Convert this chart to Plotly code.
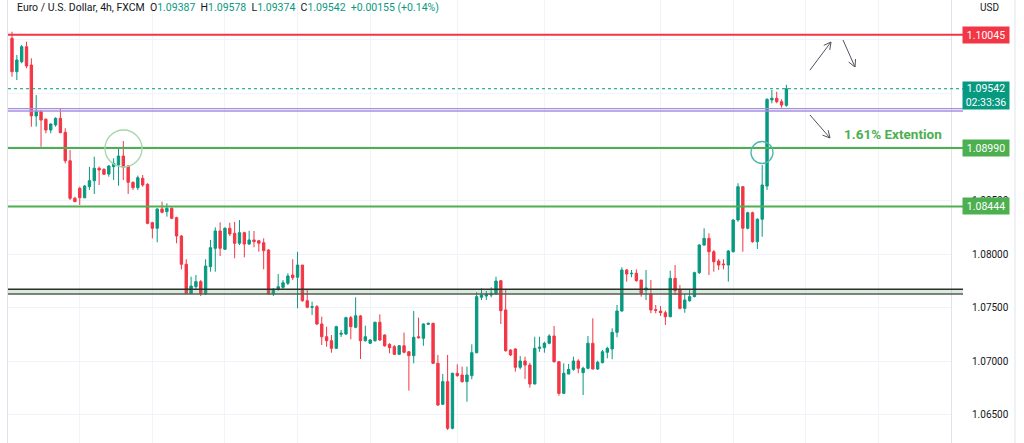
import math
import plotly.graph_objects as go

# ---------------- data (EUR/USD 4h) ----------------
OPEN = [1.10012, 1.09701, 1.09794, 1.09934, 1.09763, 1.09288, 1.09328, 1.09257, 1.09157, 1.09204,
        1.09266, 1.09135, 1.08870, 1.08520, 1.08613, 1.08525, 1.08628, 1.08684, 1.08800, 1.08790,
        1.08746, 1.08815, 1.08830, 1.08914, 1.08821, 1.08669, 1.08619, 1.08706, 1.08650, 1.08292,
        1.08240, 1.08420, 1.08395, 1.08426, 1.08339, 1.08168, 1.07904, 1.07633, 1.07695, 1.07742,
        1.07627, 1.07882, 1.08053, 1.08215, 1.08044, 1.08240, 1.08193, 1.08100, 1.08199, 1.08093,
        1.08131, 1.08124, 1.08105, 1.08037, 1.07633, 1.07671, 1.07689, 1.07727, 1.07804, 1.07783,
        1.07897, 1.07564, 1.07503, 1.07508, 1.07347, 1.07228, 1.07191, 1.07120, 1.07251, 1.07254,
        1.07406, 1.07316, 1.07422, 1.07191, 1.07167, 1.07191, 1.07363, 1.07244, 1.07157, 1.07135,
        1.07064, 1.07144, 1.07088, 1.07051, 1.07228, 1.07213, 1.07344, 1.07353, 1.06980, 1.06598,
        1.06809, 1.06374, 1.06887, 1.06871, 1.06809, 1.06865, 1.07079, 1.07596, 1.07608, 1.07617,
        1.07627, 1.07751, 1.07478, 1.07104, 1.07114, 1.06943, 1.07002, 1.06964, 1.06787, 1.07120,
        1.07126, 1.07167, 1.07235, 1.06995, 1.06700, 1.06880, 1.06924, 1.07002, 1.06893, 1.06934,
        1.07167, 1.06927, 1.06986, 1.07083, 1.07114, 1.07269, 1.07468, 1.07851, 1.07816, 1.07820,
        1.07757, 1.07664, 1.07627, 1.07480, 1.07468, 1.07452, 1.07415, 1.07773, 1.07664, 1.07493,
        1.07564, 1.07602, 1.07826, 1.08084, 1.08146, 1.08021, 1.07935, 1.07907, 1.07897, 1.08021,
        1.08317, 1.08628, 1.08240, 1.08385, 1.08115, 1.08324, 1.08634, 1.09437, 1.09453, 1.09421,
        1.09387]
HIGH = [1.10074, 1.09857, 1.09950, 1.09981, 1.09826, 1.09483, 1.09344, 1.09266, 1.09219, 1.09275,
        1.09359, 1.09173, 1.08970, 1.08535, 1.08628, 1.08644, 1.08812, 1.08908, 1.08815, 1.08800,
        1.08830, 1.08893, 1.08980, 1.09054, 1.08830, 1.08675, 1.08731, 1.08737, 1.08660, 1.08301,
        1.08426, 1.08488, 1.08473, 1.08436, 1.08348, 1.08177, 1.07951, 1.07788, 1.07804, 1.07757,
        1.07951, 1.08131, 1.08249, 1.08296, 1.08249, 1.08292, 1.08301, 1.08317, 1.08208, 1.08217,
        1.08215, 1.08131, 1.08146, 1.08044, 1.07680, 1.07813, 1.07757, 1.07820, 1.07951, 1.08021,
        1.07897, 1.07664, 1.07555, 1.07524, 1.07415, 1.07322, 1.07244, 1.07331, 1.07291, 1.07415,
        1.07422, 1.07596, 1.07431, 1.07331, 1.07207, 1.07368, 1.07437, 1.07251, 1.07167, 1.07151,
        1.07151, 1.07266, 1.07095, 1.07468, 1.07406, 1.07353, 1.07359, 1.07359, 1.07058, 1.06880,
        1.07058, 1.06893, 1.06971, 1.06949, 1.06949, 1.07157, 1.07643, 1.07680, 1.07655, 1.07689,
        1.07788, 1.07757, 1.07664, 1.07111, 1.07120, 1.07048, 1.07042, 1.06986, 1.07228, 1.07228,
        1.07182, 1.07251, 1.07328, 1.07002, 1.06980, 1.06974, 1.07042, 1.07018, 1.06949, 1.07235,
        1.07400, 1.07004, 1.07104, 1.07135, 1.07307, 1.07524, 1.07876, 1.07860, 1.07851, 1.07857,
        1.07757, 1.07851, 1.07757, 1.07524, 1.07515, 1.07471, 1.07844, 1.07897, 1.07711, 1.07627,
        1.07664, 1.07835, 1.08093, 1.08240, 1.08193, 1.08037, 1.07951, 1.07951, 1.08037, 1.08324,
        1.08660, 1.08634, 1.08395, 1.08395, 1.08333, 1.08830, 1.09453, 1.09530, 1.09514, 1.09443,
        1.09578]
LOW = [1.09654, 1.09623, 1.09779, 1.09733, 1.09188, 1.09188, 1.09001, 1.09126, 1.09126, 1.09188,
       1.09126, 1.08846, 1.08504, 1.08488, 1.08457, 1.08520, 1.08597, 1.08560, 1.08644, 1.08737,
       1.08721, 1.08690, 1.08637, 1.08690, 1.08560, 1.08597, 1.08597, 1.08628, 1.08277, 1.08146,
       1.08109, 1.08380, 1.08348, 1.08324, 1.08100, 1.07857, 1.07627, 1.07627, 1.07664, 1.07608,
       1.07620, 1.07835, 1.07835, 1.07981, 1.08037, 1.08168, 1.07960, 1.08084, 1.07969, 1.08084,
       1.08063, 1.08021, 1.07857, 1.07627, 1.07608, 1.07658, 1.07671, 1.07711, 1.07757, 1.07493,
       1.07555, 1.07493, 1.07431, 1.07338, 1.07151, 1.07135, 1.07079, 1.07114, 1.07226, 1.07244,
       1.07204, 1.07307, 1.07020, 1.07182, 1.07160, 1.07182, 1.07188, 1.07135, 1.07074, 1.07058,
       1.07058, 1.07074, 1.06725, 1.06980, 1.07213, 1.07144, 1.07338, 1.06974, 1.06582, 1.06591,
       1.06358, 1.06364, 1.06855, 1.06800, 1.06622, 1.06831, 1.07074, 1.07571, 1.07571, 1.07596,
       1.07617, 1.07347, 1.07088, 1.07048, 1.06902, 1.06924, 1.06834, 1.06753, 1.06784, 1.07088,
       1.07079, 1.07157, 1.06986, 1.06678, 1.06694, 1.06880, 1.06911, 1.06887, 1.06684, 1.06924,
       1.06924, 1.06918, 1.06980, 1.07027, 1.07018, 1.07223, 1.07462, 1.07742, 1.07783, 1.07742,
       1.07602, 1.07571, 1.07447, 1.07447, 1.07422, 1.07338, 1.07409, 1.07617, 1.07484, 1.07452,
       1.07555, 1.07596, 1.07813, 1.08075, 1.07804, 1.07835, 1.07851, 1.07857, 1.07742, 1.08016,
       1.08301, 1.08021, 1.08230, 1.08105, 1.08047, 1.08161, 1.08597, 1.09406, 1.09406, 1.09365,
       1.09374]
CLOSE = [1.09701, 1.09810, 1.09934, 1.09754, 1.09288, 1.09328, 1.09250, 1.09157, 1.09213, 1.09266,
         1.09132, 1.08870, 1.08520, 1.08488, 1.08525, 1.08634, 1.08684, 1.08800, 1.08784, 1.08744,
         1.08821, 1.08846, 1.08914, 1.08809, 1.08669, 1.08619, 1.08712, 1.08644, 1.08286, 1.08240,
         1.08420, 1.08389, 1.08426, 1.08333, 1.08168, 1.07904, 1.07633, 1.07701, 1.07742, 1.07633,
         1.07888, 1.08059, 1.08215, 1.08053, 1.08240, 1.08187, 1.08100, 1.08199, 1.08093, 1.08131,
         1.08115, 1.08100, 1.08031, 1.07627, 1.07671, 1.07695, 1.07732, 1.07795, 1.07779, 1.07897,
         1.07564, 1.07503, 1.07508, 1.07347, 1.07228, 1.07191, 1.07120, 1.07322, 1.07260, 1.07406,
         1.07322, 1.07424, 1.07191, 1.07228, 1.07198, 1.07363, 1.07198, 1.07144, 1.07126, 1.07064,
         1.07144, 1.07083, 1.07051, 1.07223, 1.07219, 1.07347, 1.07353, 1.06980, 1.06591, 1.06809,
         1.06374, 1.06887, 1.06865, 1.06809, 1.06871, 1.07079, 1.07602, 1.07617, 1.07624, 1.07633,
         1.07748, 1.07471, 1.07098, 1.07058, 1.06943, 1.07002, 1.06964, 1.06787, 1.07120, 1.07130,
         1.07167, 1.07235, 1.06995, 1.06700, 1.06887, 1.06924, 1.07002, 1.06934, 1.06934, 1.07167,
         1.06927, 1.06990, 1.07088, 1.07120, 1.07269, 1.07468, 1.07851, 1.07813, 1.07820, 1.07751,
         1.07633, 1.07683, 1.07478, 1.07475, 1.07452, 1.07415, 1.07773, 1.07658, 1.07493, 1.07571,
         1.07602, 1.07826, 1.08084, 1.08146, 1.08021, 1.07928, 1.07897, 1.07900, 1.08028, 1.08317,
         1.08628, 1.08240, 1.08385, 1.08115, 1.08324, 1.08644, 1.09443, 1.09453, 1.09421, 1.09390,
         1.09542]

Y_TICKS = [1.065, 1.070, 1.075, 1.080, 1.085, 1.090, 1.095, 1.100]
# 1.09000 and 1.09500 sit fully behind the price tags in the reference
Y_TICK_TEXT = ["1.06500", "1.07000", "1.07500", "1.08000", "1.08500", "", "", "1.10000"]

RESISTANCE = 1.10045          # red line
EXTENSION = 1.08990           # green line ("1.61% Extention")
SUPPORT = 1.08444             # green line
PURPLE_LEVELS = [1.09356, 1.09334]
ZONE = [1.07627, 1.07671]     # dark double line zone
TIMER = "02:33:36"
HEADER_NAME = "Euro / U.S. Dollar, 4h, FXCM"
EXT_LABEL = "1.61% Extention"

# ---------------- style ----------------
UP = "#089981"
DOWN = "#f23645"
GREEN = "#4caf50"
GRID = "#f0f3fa"
TXT = "#131722"
FONT = "Roboto"

W, H = 1024, 443
ML, MR = 8, 73
PW = W - ML - MR


def px(x):
    return (x - ML) / PW


def py(y):
    return 1 - y / H


idx = list(range(len(OPEN)))

fig = go.Figure(go.Candlestick(
    x=idx, open=OPEN, high=HIGH, low=LOW, close=CLOSE,
    increasing=dict(line=dict(color=UP, width=1), fillcolor=UP),
    decreasing=dict(line=dict(color=DOWN, width=1), fillcolor=DOWN),
    whiskerwidth=0, hoverinfo="skip",
))

x_end = px(963)
shapes = []


def hline(val, color, width, dash="solid"):
    return dict(type="line", xref="paper", yref="y", x0=0, x1=x_end, y0=val, y1=val,
                line=dict(color=color, width=width, dash=dash))


# zone: light green fill between two dark lines
shapes.append(dict(type="rect", xref="paper", yref="y", x0=0, x1=x_end, y0=ZONE[0], y1=ZONE[1],
                   fillcolor="rgba(76,175,80,0.22)", line=dict(width=0)))
shapes.append(hline(ZONE[1], "#2f2f2f", 1.3))
shapes.append(hline(ZONE[0], "#5a5a5a", 1.3))
# purple double line
for lv in PURPLE_LEVELS:
    shapes.append(hline(lv, "#a58fde", 1.3))
# current price dotted
shapes.append(hline(CLOSE[-1], UP, 1, "dot"))
# levels
shapes.append(hline(RESISTANCE, DOWN, 2))
for lv in (EXTENSION, SUPPORT):
    shapes.append(hline(lv, GREEN, 2))


def circle(cx, cy, r, color):
    return dict(type="circle", xref="paper", yref="paper",
                x0=px(cx - r), x1=px(cx + r), y0=py(cy + r), y1=py(cy - r),
                line=dict(color=color, width=1.3))


shapes.append(circle(123.5, 148.5, 18.5, "#a5d6a7"))
shapes.append(circle(762, 152.5, 11, "#4db6ac"))


def arrow(x0, y0, x1, y1, head=8, ang=28):
    dx, dy = x0 - x1, y0 - y1
    L = math.hypot(dx, dy)
    ux, uy = dx / L, dy / L
    pts = []
    for s in (1, -1):
        a = math.radians(ang) * s
        hx = x1 + head * (ux * math.cos(a) - uy * math.sin(a))
        hy = y1 + head * (ux * math.sin(a) + uy * math.cos(a))
        pts.append((hx, hy))
    p = (f"M {px(x0)} {py(y0)} L {px(x1)} {py(y1)} "
         f"M {px(pts[0][0])} {py(pts[0][1])} L {px(x1)} {py(y1)} L {px(pts[1][0])} {py(pts[1][1])}")
    return dict(type="path", xref="paper", yref="paper", path=p,
                line=dict(color="#50535e", width=1))


shapes.append(arrow(810, 70, 831, 42))
shapes.append(arrow(843, 40, 855, 67))
shapes.append(arrow(810, 115, 830, 138))

# right border of the screenshot frame
shapes.append(dict(type="line", xref="paper", yref="paper", x0=px(1015), x1=px(1015), y0=0, y1=1,
                   line=dict(color="#e0e3eb", width=1)))

annotations = []
chg = CLOSE[-1] - OPEN[-1]
pct = chg / OPEN[-1] * 100
tc = f"<span style='color:{UP}'>"
sp = "&nbsp;&nbsp;"
header = (f"{HEADER_NAME}{sp}O{tc}{OPEN[-1]:.5f}</span>{sp}H{tc}{HIGH[-1]:.5f}</span>"
          f"{sp}L{tc}{LOW[-1]:.5f}</span>{sp}C{tc}{CLOSE[-1]:.5f}</span>"
          f"{sp}{tc}{chg:+.5f} ({pct:+.2f}%)</span>")
annotations.append(dict(xref="paper", yref="paper", x=px(15), y=py(8), xanchor="left", yanchor="middle",
                        text=header, showarrow=False, font=dict(size=10.5, color=TXT, family=FONT)))
annotations.append(dict(xref="paper", yref="paper", x=px(978), y=py(8), xanchor="left", yanchor="middle",
                        text="USD", showarrow=False, font=dict(size=10, color=TXT, family=FONT)))
annotations.append(dict(xref="paper", yref="paper", x=px(842), y=py(133.5), xanchor="left", yanchor="middle",
                        text=f"<b>{EXT_LABEL}</b>", showarrow=False,
                        font=dict(size=13.5, color=GREEN, family=FONT)))


def price_label(val, color):
    return dict(xref="paper", yref="y", x=px(985.5), y=val, xanchor="center", yanchor="middle",
                text=f"{val:.5f}", showarrow=False, bgcolor=color, width=44, height=14, borderpad=1,
                font=dict(size=10.5, color="white", family=FONT))


annotations.append(price_label(RESISTANCE, DOWN))
annotations.append(price_label(EXTENSION, GREEN))
annotations.append(price_label(SUPPORT, GREEN))
annotations.append(dict(xref="paper", yref="paper", x=px(985.5), y=py(81), xanchor="center", yanchor="top",
                        text=f"{CLOSE[-1]:.5f}<br>{TIMER}", showarrow=False, bgcolor=UP,
                        width=44, height=25, borderpad=1,
                        font=dict(size=10.5, color="white", family=FONT)))

y_lo = 1.08 - 189 * 0.0000933
y_hi = 1.08 + 254 * 0.0000933
grid_x = [14, 29, 44, 59, 74, 92, 110, 134, 149, 164, 179]

fig.update_layout(
    width=W, height=H, margin=dict(l=ML, r=MR, t=0, b=0),
    paper_bgcolor="white", plot_bgcolor="white", showlegend=False,
    shapes=shapes, annotations=annotations,
    xaxis=dict(range=[(ML - 12) / 4.84, (W - MR - 12) / 4.84], rangeslider=dict(visible=False),
               showticklabels=False, tickvals=grid_x, showgrid=True, gridcolor=GRID, zeroline=False,
               showline=False, ticks=""),
    yaxis=dict(side="right", range=[y_lo, y_hi], tickvals=Y_TICKS, ticktext=Y_TICK_TEXT,
               showgrid=True, gridcolor=GRID, zeroline=False, showline=True, mirror=True,
               linecolor="#e0e3eb", ticks="", ticklabelstandoff=18,
               tickfont=dict(size=10, color=TXT, family=FONT)),
    hovermode=False,
)

fig.write_html("out.html", config=dict(displayModeBar=False, staticPlot=True))
